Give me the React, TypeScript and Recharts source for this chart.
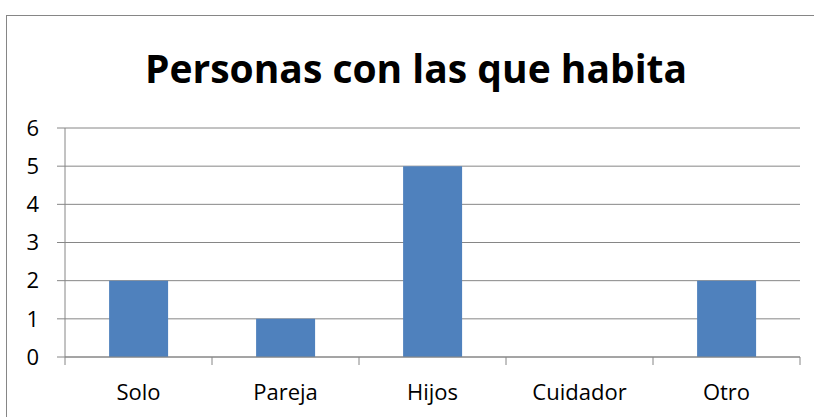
import { BarChart, Bar, XAxis, YAxis, CartesianGrid } from "recharts";

const categories = ["Solo", "Pareja", "Hijos", "Cuidador", "Otro"];
const personas = [2, 1, 5, 0, 2];
const yTicks = [0, 1, 2, 3, 4, 5, 6];
const title = "Personas con las que habita";

const data = categories.map((name, i) => ({ name, value: personas[i] }));

const W = 814;
const H = 417;
const gray = "#868686";
const font = "'Open Sans', sans-serif";

const CategoryTick = (props: any) => {
  const { x, y, payload, index } = props;
  const half = payload.offset ?? 735 / categories.length / 2;
  return (
    <g>
      <line x1={x - half} x2={x - half} y1={y} y2={y + 8} stroke={gray} />
      {index === categories.length - 1 && (
        <line x1={x + half} x2={x + half} y1={y} y2={y + 8} stroke={gray} />
      )}
      <text x={x} y={y + 43} textAnchor="middle" fontSize={22} fontFamily={font} fill="#000">
        {payload.value}
      </text>
    </g>
  );
};

export default function App() {
  return (
    <div style={{ position: "fixed", left: 0, top: 0, width: W, height: H, overflow: "hidden", background: "#fff" }}>
      <div
        style={{
          position: "absolute",
          left: 6,
          top: 15,
          width: 900,
          height: 500,
          border: `1px solid ${gray}`,
        }}
      />
      <svg width={W} height={H} style={{ position: "absolute", left: 0, top: 0 }}>
        <text x={416} y={83} textAnchor="middle" fontSize={39} fontWeight="bold" fontFamily={font} fill="#000">
          {title}
        </text>
      </svg>
      <div style={{ position: "absolute", left: 0, top: 0 }}>
        <BarChart
          width={W}
          height={H}
          data={data}
          margin={{ top: 128, right: 14, bottom: 0, left: 0 }}
          barCategoryGap="30%"
        >
          <CartesianGrid vertical={false} stroke={gray} strokeWidth={1} />
          <XAxis
            dataKey="name"
            height={60}
            axisLine={{ stroke: gray }}
            tickLine={false}
            tickSize={0}
            tickMargin={0}
            interval={0}
            tick={<CategoryTick />}
          />
          <YAxis
            width={65}
            domain={[0, 6]}
            ticks={yTicks}
            interval={0}
            axisLine={{ stroke: gray }}
            tickLine={{ stroke: gray }}
            tickSize={8}
            tickMargin={18}
            tick={{ fontSize: 22, fontFamily: font, fill: "#000" }}
          />
          <Bar dataKey="value" fill="#4F81BD" isAnimationActive={false} />
        </BarChart>
      </div>
    </div>
  );
}
